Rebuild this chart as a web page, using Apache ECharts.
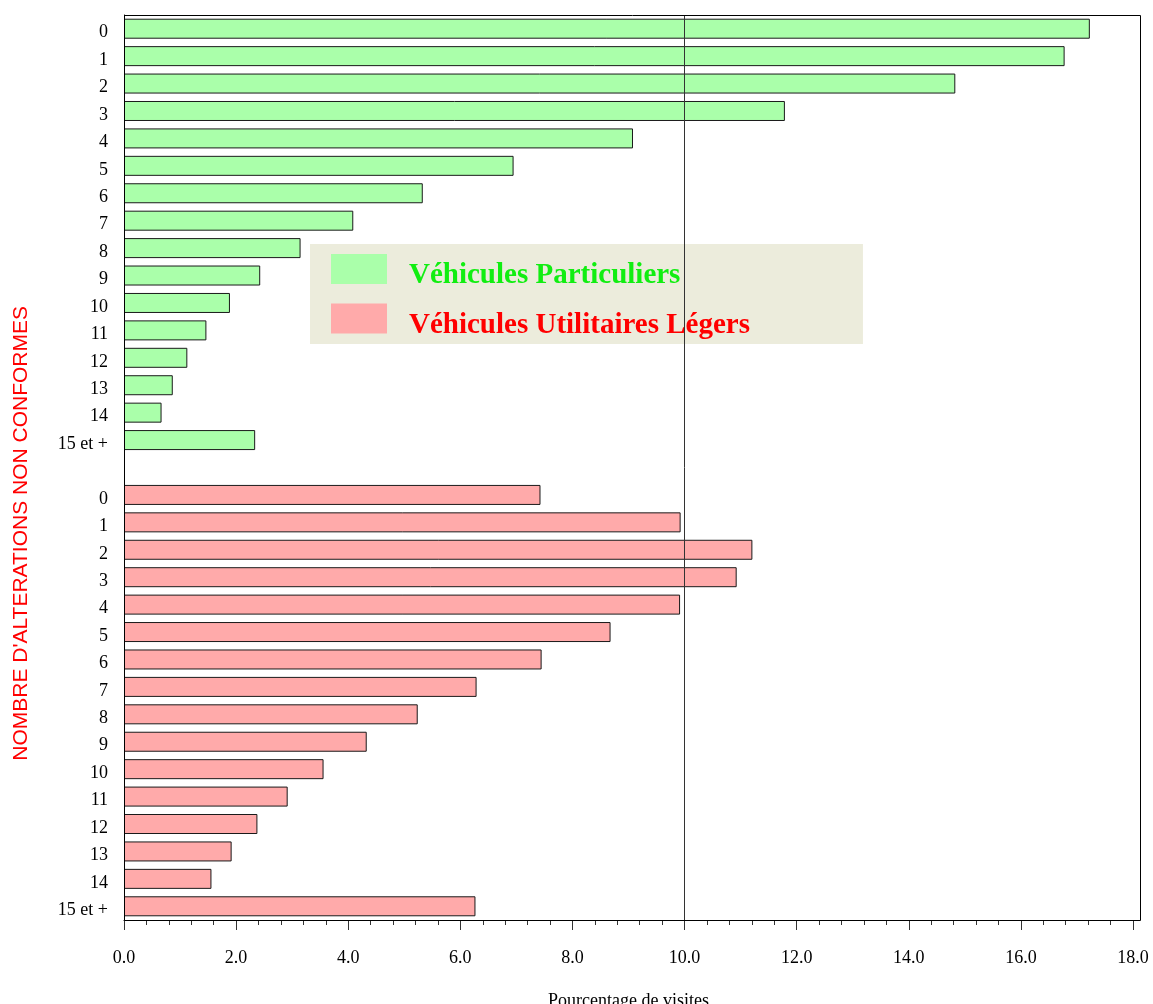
<!DOCTYPE html>
<html lang="fr">
<head>
    <meta charset="UTF-8">
    <style>
        html, body { margin: 0; padding: 0; background: #fff; }
        #main { width: 1153px; height: 1004px; }
    </style>
    <script src="https://cdn.jsdelivr.net/npm/echarts@6/dist/echarts.min.js"></script>
    <title>Altérations non conformes</title>
</head>
<body>
    <div id="main"></div>
    <script>
        // classes du nombre d'altérations (même liste pour les deux groupes)
        var vpLabels = ['0', '1', '2', '3', '4', '5', '6', '7', '8', '9', '10', '11', '12', '13', '14', '15 et +'];
        var vulLabels = ['0', '1', '2', '3', '4', '5', '6', '7', '8', '9', '10', '11', '12', '13', '14', '15 et +'];
        // pourcentage de visites
        var vpValues = [17.23, 16.78, 14.83, 11.79, 9.08, 6.95, 5.33, 4.09, 3.15, 2.43, 1.89, 1.47, 1.13, 0.87, 0.67, 2.34];
        var vulValues = [7.43, 9.93, 11.21, 10.93, 9.92, 8.68, 7.45, 6.29, 5.24, 4.33, 3.56, 2.92, 2.38, 1.92, 1.56, 6.27];
        var xTicks = { min: 0, max: 18, interval: 2 };

        var serif = '"Liberation Serif", "DejaVu Serif", serif';
        var sans = '"Liberation Sans", Arial, sans-serif';

        // un emplacement vide sépare les deux groupes
        var categories = vpLabels.concat([''], vulLabels);
        var vpData = vpValues.concat(new Array(vulLabels.length + 1).fill('-'));
        var vulData = new Array(vpLabels.length + 1).fill('-').concat(vulValues);

        var myChart = echarts.init(document.getElementById('main'));
        var option = {
            animation: false,
            grid: {
                left: 124,
                right: 20,
                top: 15,
                bottom: 84,
                containLabel: false,
                outerBoundsMode: 'none'
            },
            legend: {
                orient: 'vertical',
                left: 310,
                top: 244,
                padding: [10, 113, 4, 21],
                backgroundColor: '#ececdc',
                icon: 'rect',
                itemWidth: 56,
                itemHeight: 30,
                itemGap: 13,
                selectedMode: false,
                itemStyle: { borderWidth: 0 },
                formatter: '{t|{name}}',
                textStyle: {
                    fontFamily: serif,
                    fontSize: 29,
                    fontWeight: 'bold',
                    padding: [15, 0, 1, 17],
                    rich: {
                        t: { fontFamily: serif, fontSize: 29, fontWeight: 'bold', lineHeight: 14 }
                    }
                },
                data: [
                    { name: 'Véhicules Particuliers', textStyle: { color: '#11ee11' } },
                    { name: 'Véhicules Utilitaires Légers', textStyle: { color: '#ff0000' } }
                ]
            },
            xAxis: {
                type: 'value',
                min: xTicks.min,
                max: xTicks.max,
                interval: xTicks.interval,
                name: 'Pourcentage de visites',
                nameLocation: 'middle',
                nameGap: 72,
                nameTextStyle: { fontFamily: serif, fontSize: 18, color: '#000' },
                axisLine: { show: true, lineStyle: { color: '#000', width: 1 } },
                axisTick: { show: true, length: 10, lineStyle: { color: '#333' } },
                minorTick: { show: true, splitNumber: 5, length: 5, lineStyle: { color: '#333' } },
                splitLine: { show: false },
                axisLabel: {
                    margin: 29,
                    fontFamily: serif,
                    fontSize: 18,
                    color: '#000',
                    formatter: function (v) { return v.toFixed(1); }
                }
            },
            yAxis: {
                type: 'category',
                inverse: true,
                data: categories,
                axisLine: { show: true, lineStyle: { color: '#000', width: 1 } },
                axisTick: { show: false },
                axisLabel: {
                    margin: 16,
                    fontFamily: serif,
                    fontSize: 18,
                    color: '#000',
                    interval: 0,
                    padding: [8, 0, 0, 0],
                    formatter: function (v) { return '{v|' + v + '}'; },
                    rich: {
                        v: { fontFamily: serif, fontSize: 18, color: '#000', lineHeight: 14 }
                    }
                }
            },
            graphic: [
                {
                    type: 'rect',
                    z: 100,
                    silent: true,
                    shape: { x: 124.5, y: 15.5, width: 1016, height: 905 },
                    style: { fill: 'none', stroke: '#000', lineWidth: 1 }
                },
                {
                    type: 'text',
                    left: 11,
                    top: 306,
                    rotation: Math.PI / 2,
                    style: {
                        text: "NOMBRE D'ALTERATIONS NON CONFORMES",
                        fontFamily: sans,
                        fontSize: 21,
                        fill: '#ff0000'
                    }
                }
            ],
            series: [
                {
                    name: 'Véhicules Particuliers',
                    type: 'bar',
                    barWidth: 20,
                    barGap: '-100%',
                    itemStyle: { color: '#aaffaa', borderColor: '#1a1a1a', borderWidth: 1 },
                    data: vpData,
                    markLine: {
                        silent: true,
                        symbol: 'none',
                        label: { show: false },
                        lineStyle: { color: '#333', width: 1, type: 'solid' },
                        data: [{ xAxis: 10 }]
                    }
                },
                {
                    name: 'Véhicules Utilitaires Légers',
                    type: 'bar',
                    barWidth: 20,
                    barGap: '-100%',
                    itemStyle: { color: '#ffaaaa', borderColor: '#1a1a1a', borderWidth: 1 },
                    data: vulData
                }
            ]
        };
        myChart.setOption(option);
    </script>
</body>
</html>
